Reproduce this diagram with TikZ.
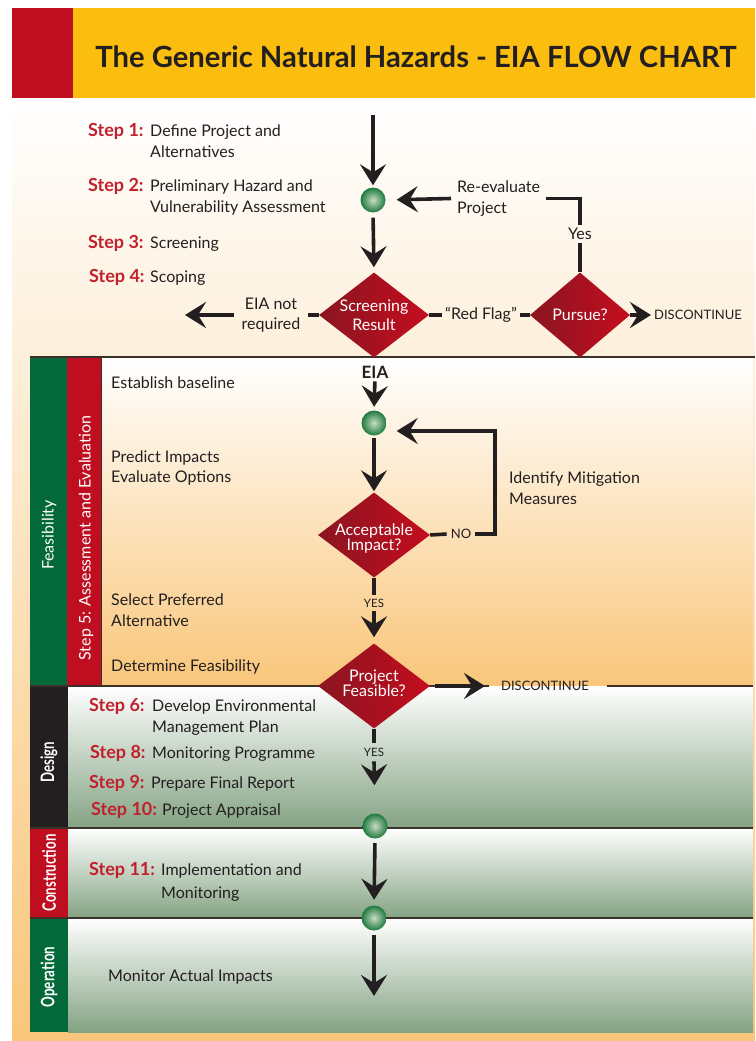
\documentclass[tikz,border=0pt]{standalone}
\usepackage{fontspec}
\setmainfont{Lato}
\newfontfamily\condfont[FakeStretch=0.72]{Lato}
\usetikzlibrary{shapes.geometric,arrows.meta,calc}

\definecolor{gold}{HTML}{FBBD0E}
\definecolor{hred}{HTML}{BE0E1F}
\definecolor{hgreen}{HTML}{04693A}
\definecolor{hdark}{HTML}{231F20}
\definecolor{peach}{HTML}{F9C67A}
\definecolor{sage}{HTML}{84A383}
\definecolor{steptxt}{HTML}{C1202D}
\definecolor{rulec}{HTML}{3B302A}
\definecolor{dmdL}{HTML}{8A1520}
\definecolor{dmdR}{HTML}{C40D1F}
\definecolor{ballin}{HTML}{C9DCC6}
\definecolor{ballout}{HTML}{1E7A3D}

\tikzset{
  body/.style={font=\fontsize{16}{20.5}\selectfont, text=hdark, inner sep=0pt},
  stepline/.style={body, anchor=base west},
  sidelabel/.style={font=\fontsize{16}{18}\selectfont, text=white, rotate=90, inner sep=0pt},
  phaselabel/.style={font=\condfont\bfseries\fontsize{18.5}{20}\selectfont, text=white, rotate=90, inner sep=0pt},
  flow/.style={line width=3.6pt, draw=hdark},
  flowarrow/.style={flow, -{Stealth[length=21pt,width=26pt,inset=8pt]}},
  ball/.style={circle, minimum size=25pt, inner sep=0pt, inner color=ballin, outer color=ballout},
  decision/.style={diamond, minimum width=112pt, minimum height=85pt, inner sep=0pt, left color=dmdL, right color=dmdR},
  decisiontext/.style={font=\fontsize{16}{15}\selectfont, text=white, align=center, inner sep=0pt},
  capslabel/.style={font=\fontsize{13}{14}\selectfont, text=hdark, inner sep=0pt},
  rulel/.style={line width=2pt, draw=rulec},
}
\newcommand\stp[2]{\makebox[#1pt][l]{\textcolor{steptxt}{\bfseries\fontsize{18}{20}\selectfont #2}}}

\begin{document}
\begin{tikzpicture}[x=1pt,y=-1pt]
\useasboundingbox (0,0) rectangle (755,1041);
\fill[white] (0,0) rectangle (755,1041);

% warm backdrop behind everything below the title
\shade[top color=white, bottom color=peach] (12,98) rectangle (755,1041);

% title band
\fill[gold] (73,8) rectangle (755,98);
\fill[hred] (12,8) rectangle (73,98);
\node[font=\bfseries\fontsize{29.2}{32}\selectfont, text=hdark, inner sep=0pt] (title) at (416,57)
  {The Generic Natural Hazards - EIA FLOW CHART};

% ---- phase panels ----
% Feasibility
\shade[top color=white, bottom color=peach] (101,357) rectangle (753,686);
\fill[hgreen] (30,357) rectangle (67,686);
\fill[hred] (67,357) rectangle (101,686);
\draw[line width=1pt, draw=rulec] (101,357) -- (101,686);
% Design
\shade[top color=white, bottom color=sage] (68,686) rectangle (753,828);
\fill[hdark] (30,686) rectangle (68,828);
% Construction
\shade[top color=white, bottom color=sage] (68,828) rectangle (753,918);
\fill[hred] (30,828) rectangle (68,918);
% Operation
\shade[top color=white, bottom color=sage] (68,918) rectangle (753,1032);
\fill[hgreen] (30,918) rectangle (68,1032);

% panel borders
\draw[rulel] (30,357) -- (755,357);
\draw[rulel] (30,686) -- (489,686);
\draw[rulel] (607,686) -- (753,686);
\draw[rulel] (30,828) -- (753,828);
\draw[rulel] (30,918) -- (753,918);

% phase labels
\node[sidelabel] (lblfeas) at (49,535) {Feasibility};
\node[sidelabel] (lblstep5) at (86,538) {Step 5: Assessment and Evaluation};
\node[phaselabel] (lbldesign) at (49,762) {Design};
\node[phaselabel] (lblconstr) at (49,873) {Construction};
\node[phaselabel] (lbloper) at (49,977) {Operation};

% ---- step texts ----
\node[stepline] (s1) at (88,136.5) {\stp{62}{Step 1:}\begin{tabular}[t]{@{}l@{}}Define Project and\\Alternatives\end{tabular}};
\node[stepline] (s2) at (88,191.5) {\stp{62}{Step 2:}\begin{tabular}[t]{@{}l@{}}Preliminary Hazard and\\Vulnerability Assessment\end{tabular}};
\node[stepline] (s3) at (88,248.5) {\stp{62}{Step 3:}Screening};
\node[stepline] (s4) at (89,282.5) {\stp{61}{Step 4:}Scoping};

\node[body, anchor=west] (t1) at (111,383) {Establish baseline};
\node[body, anchor=west, align=left] (t2) at (111,468) {Predict Impacts\\Evaluate Options};
\node[body, anchor=west, align=left] (t3) at (111,610) {Select Preferred\\Alternative};
\node[body, anchor=west] (t4) at (111,667) {Determine Feasibility};
\node[body, anchor=west, align=left] (t5) at (509,488) {Identify Mitigation\\Measures};

\node[stepline] (s6) at (89,711.5) {\stp{63}{Step 6:}\begin{tabular}[t]{@{}l@{}}Develop Environmental\\Management Plan\end{tabular}};
\node[stepline] (s8) at (90,758.5) {\stp{62}{Step 8:}Monitoring Programme};
\node[stepline] (s9) at (89,788.5) {\stp{62}{Step 9:}Prepare Final Report};
\node[stepline] (s10) at (91,815.5) {\stp{71}{Step 10:}Project Appraisal};
\node[stepline] (s11) at (89,875.5) {\stp{72}{Step 11:}\begin{tabular}[t]{@{}l@{}}Implementation and\\[2pt]Monitoring\end{tabular}};
\node[body, anchor=west] (t6) at (108,977) {Monitor Actual Impacts};

% ---- flow nodes ----
\coordinate (start) at (373,115);
\node[ball] (c1) at (373,200) {};
\node[decision, minimum width=110pt] (scr) at (374,315) {};
\node[decisiontext, font=\fontsize{16}{19}\selectfont] (scrt) at (scr) {Screening\\Result};
\node[decision, minimum width=100pt] (purs) at (580,315) {};
\node[decisiontext] (purst) at (purs) {Pursue?};
\node[body, align=center, inner xsep=8pt] (notreq) at (271,315) {EIA not\\required};
\coordinate (noeia) at (185,315);
\node[body, inner xsep=3pt] (flag) at (481,315) {“Red Flag”};
\node[capslabel, anchor=west] (disc1) at (654,315) {DISCONTINUE};
\node[body, inner ysep=3pt] (yes0) at (580,234) {Yes};
\node[body, anchor=west, align=left, inner xsep=6pt] (reeval) at (451,198.5) {Re-evaluate\\Project};

\node[font=\bfseries\fontsize{17}{18}\selectfont, text=hdark, inner sep=0pt] (eia) at (375,372) {EIA};
\node[ball] (c2) at (374,423) {};
\node[decision] (acc) at (374,535) {};
\node[decisiontext] (acct) at (374,538) {Acceptable\\Impact?};
\node[capslabel, inner xsep=4pt] (no) at (461,534) {NO};
\coordinate (loopc) at (495,431);
\coordinate (loopend) at ($(c2.east)+(10,8)$);
\node[capslabel, font=\fontsize{11.5}{12}\selectfont, inner ysep=4pt] (yes1) at (374,603) {YES};
\node[decision] (feas) at (374,686) {};
\node[decisiontext] (feast) at (374,683) {Project\\Feasible?};
\node[capslabel, anchor=west, inner xsep=12pt] (disc2) at (489,686) {DISCONTINUE};
\node[capslabel, font=\fontsize{11.5}{12}\selectfont, inner ysep=5pt] (yes2) at (374,752) {YES};
\node[ball] (c3) at (375,826) {};
\node[ball] (c4) at (374,918) {};
\coordinate (finish) at (374,996);

% ---- connectors ----
\draw[flowarrow, shorten >=2pt] (start) -- (c1.north);
\draw[flowarrow, shorten <=5pt, shorten >=5pt] (c1.south) -- (scr.north);
\draw[flow] (scr.west) -- (notreq.east);
\draw[flowarrow] (notreq.west) -- (noeia);
\draw[flow] (scr.east) -- (flag.west);
\draw[flow] (flag.east) -- (purs.west);
\draw[flowarrow, shorten >=3pt] (purs.east) -- (disc1.west);
\draw[flow] (purs.north) -- (yes0.south);
\draw[flow] (yes0.north) |- (reeval.east);
\draw[flowarrow, shorten >=11pt] (reeval.west) -- (c1.east);

\draw[flowarrow, shorten <=3pt, shorten >=3.5pt] (eia.south) -- (c2.north);
\draw[flowarrow, shorten <=2.5pt, shorten >=1pt] (c2.south) -- (acc.north);
\draw[flow] (acc.east) -- (no.west);
\draw[flowarrow] (no.east) -| (loopc) -- (loopend);
\draw[flow] (acc.south) -- (yes1.north);
\draw[flowarrow, shorten >=6pt] (yes1.south) -- (feas.north);
\draw[flowarrow, shorten <=5pt, shorten >=4pt] (feas.east) -- (disc2.west);
\draw[flow] (feas.south) -- (yes2.north);
\draw[flowarrow, shorten >=28pt] (yes2.south) -- (c3.north);
\draw[flowarrow, shorten <=4.5pt, shorten >=5.5pt] (c3.south) -- (c4.north);
\draw[flowarrow, shorten <=4.5pt] (c4.south) -- (finish);
\end{tikzpicture}
\end{document}
